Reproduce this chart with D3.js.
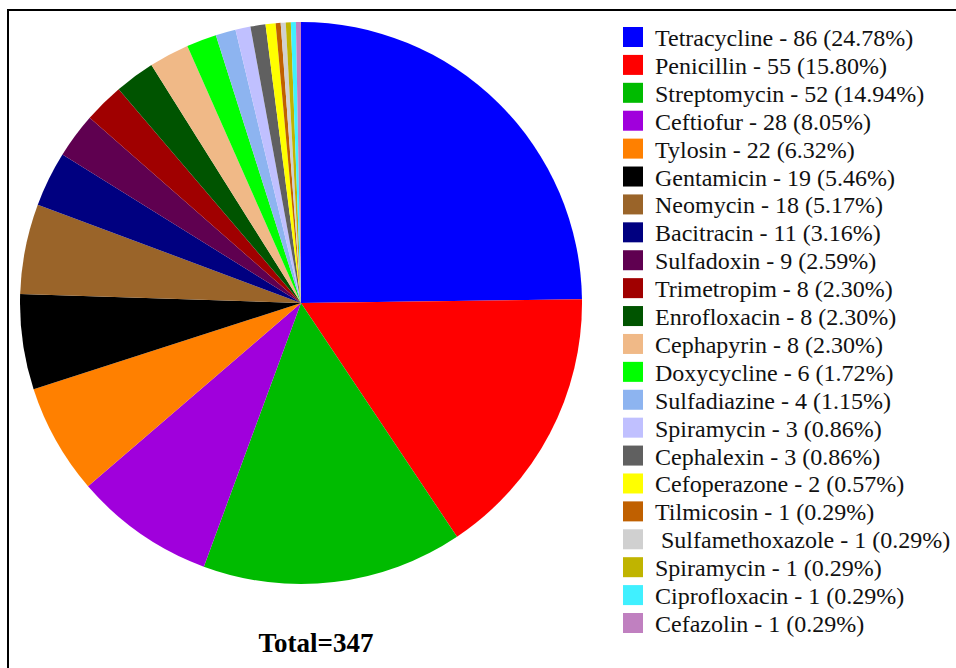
<!DOCTYPE html>
<html>
<head>
<meta charset="utf-8">
<script src="https://cdn.jsdelivr.net/npm/d3@7"></script>
<style>
  body { margin: 0; background: #fff; }
  svg { display: block; }
</style>
</head>
<body>
<div id="main"></div>
<script>
const width = 956, height = 668;

const names = ["Tetracycline", "Penicillin", "Streptomycin", "Ceftiofur", "Tylosin",
    "Gentamicin", "Neomycin", "Bacitracin", "Sulfadoxin", "Trimetropim", "Enrofloxacin",
    "Cephapyrin", "Doxycycline", "Sulfadiazine", "Spiramycin", "Cephalexin", "Cefoperazone",
    "Tilmicosin", " Sulfamethoxazole", "Spiramycin", "Ciprofloxacin", "Cefazolin"];
const counts = [86, 55, 52, 28, 22, 19, 18, 11, 9, 8, 8, 8, 6, 4, 3, 3, 2, 1, 1, 1, 1, 1];
const percents = ["24.78%", "15.80%", "14.94%", "8.05%", "6.32%", "5.46%", "5.17%", "3.16%",
    "2.59%", "2.30%", "2.30%", "2.30%", "1.72%", "1.15%", "0.86%", "0.86%", "0.57%",
    "0.29%", "0.29%", "0.29%", "0.29%", "0.29%"];
const colors = ["#0000ff", "#ff0000", "#00bb00", "#a000dc", "#ff8000", "#000000", "#9a6429",
    "#000080", "#5f0050", "#a00000", "#005400", "#f0b987", "#00ff00", "#8db4f0", "#c0c0ff",
    "#606060", "#ffff00", "#c06000", "#d0d0d0", "#c0b400", "#40f0ff", "#c080c0"];
const total = 347;

const svg = d3.select("#main").append("svg")
    .attr("width", width)
    .attr("height", height);

// frame (cropped figure box)
svg.append("path")
    .attr("d", "M8," + height + "V10H" + width)
    .attr("fill", "none")
    .attr("stroke", "#000")
    .attr("stroke-width", 2);

const cx = 301, cy = 303, r = 281;

const pie = d3.pie().sort(null).value(d => d);
const arc = d3.arc().innerRadius(0).outerRadius(r);

svg.append("g")
    .attr("transform", "translate(" + cx + "," + cy + ")")
    .selectAll("path")
    .data(pie(counts))
    .join("path")
    .attr("d", arc)
    .attr("fill", (d, i) => colors[i]);

svg.append("text")
    .attr("x", 316)
    .attr("y", 652)
    .attr("text-anchor", "middle")
    .attr("font-family", "'Liberation Serif', serif")
    .attr("font-weight", "bold")
    .attr("font-size", 27)
    .text("Total=" + total);

const rowY = d3.scaleLinear().domain([0, names.length - 1]).range([46, 632]);

const legend = svg.append("g")
    .selectAll("g")
    .data(names)
    .join("g")
    .attr("transform", (d, i) => "translate(623," + rowY(i) + ")");

legend.append("rect")
    .attr("x", 0)
    .attr("y", -19)
    .attr("width", 20)
    .attr("height", 20)
    .attr("fill", (d, i) => colors[i]);

legend.append("text")
    .attr("x", 32)
    .attr("y", 0)
    .attr("font-family", "'Liberation Serif', serif")
    .attr("font-size", 24)
    .attr("fill", "#111")
    .style("white-space", "pre")
    .text((d, i) => d + " - " + counts[i] + " (" + percents[i] + ")");
</script>
</body>
</html>
